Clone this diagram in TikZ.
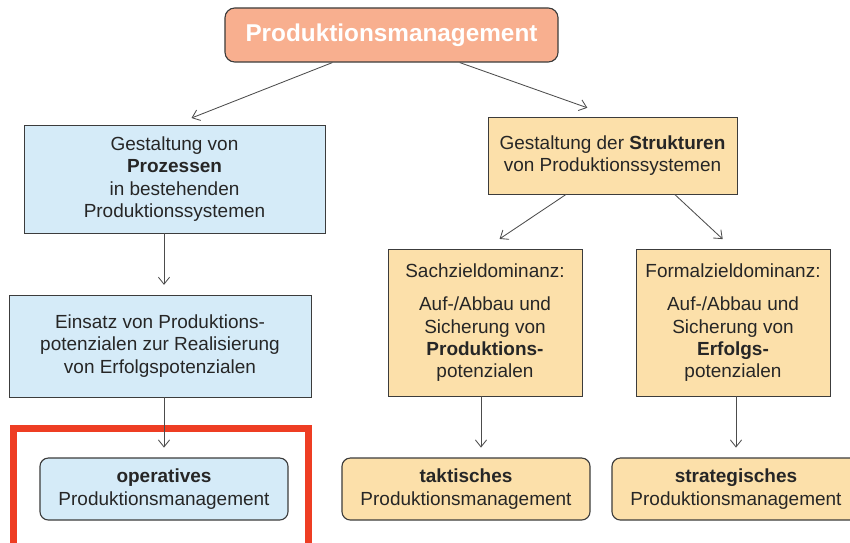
\documentclass[tikz,border=0pt]{standalone}
\usepackage{fontspec}
\setmainfont{Liberation Sans}
\usepackage{tikz}
\usetikzlibrary{arrows.meta}

\definecolor{lachs}{HTML}{F8AF8F}
\definecolor{hellblau}{HTML}{D5EBF8}
\definecolor{beige}{HTML}{FCE0AA}
\definecolor{rand}{HTML}{3C3C3C}
\definecolor{markrot}{HTML}{EE3D23}

\begin{document}
\begin{tikzpicture}[x=0.025cm, y=-0.025cm,
            nodes={draw=rand, align=center, text=black!85, inner sep=2pt,
                font=\fontsize{13.5}{15.8}\selectfont},
            blau/.style={fill=hellblau},
            gelb/.style={fill=beige},
            ebene/.style={rounded corners=6pt, line width=0.8pt,
                minimum width=6.2cm, minimum height=1.55cm},
            pfeil/.style={-{Straight Barb[length=5pt,width=8pt]}, draw=black!70, line width=0.6pt}]
        \useasboundingbox (0,0) rectangle (850,542);

        \node (top) [fill=lachs, text=white, rounded corners=7pt, line width=0.8pt,
            minimum width=8.325cm, minimum height=1.35cm,
            font=\fontsize{17.3}{20}\selectfont\bfseries] at (391.5,35) {Produktionsmanagement};

        \node (proz) [blau, minimum width=7.525cm, minimum height=2.7cm] at (174.5,179)
            {Gestaltung von\\\textbf{Prozessen}\\in bestehenden\\Produktionssystemen};
        \node (einsatz) [blau, minimum width=7.55cm, minimum height=2.55cm] at (160,346)
            {Einsatz von Produktions-\\potenzialen zur Realisierung\\von Erfolgspotenzialen};

        \node (strukt) [gelb, minimum width=6.225cm, minimum height=1.925cm] at (612.5,155.5)
            {Gestaltung der \textbf{Strukturen}\\von Produktionssystemen};
        \node (sach) [gelb, minimum width=4.85cm, minimum height=3.675cm] at (485,322.5)
            {Sachzieldominanz:\\[8pt]Auf-/Abbau und\\Sicherung von\\\textbf{Produktions-}\\potenzialen};
        \node (form) [gelb, minimum width=4.85cm, minimum height=3.675cm] at (733,322.5)
            {Formalzieldominanz:\\[8pt]Auf-/Abbau und\\Sicherung von\\\textbf{Erfolgs-}\\potenzialen};

        \node (fokus) [draw=markrot, line width=5pt, minimum width=7.375cm, minimum height=3.09cm] at (161,490) {};
        \node (ops) [blau, ebene] at (164,489) {\textbf{operatives}\\Produktionsmanagement};
        \node (takt) [gelb, ebene] at (466,489) {\textbf{taktisches}\\Produktionsmanagement};
        \node (strat) [gelb, ebene] at (736,489) {\textbf{strategisches}\\Produktionsmanagement};

        % obere ebene
        \draw [pfeil, shorten >=13pt] (top.205) -- (proz.north);
        \draw [pfeil, shorten >=19pt] (top.338) -- (strukt.north);
        \draw [pfeil, shorten >=12.5pt] (strukt.220) -- (sach.north);
        \draw [pfeil, shorten >=10pt] (strukt.328) -- (form.north);

        % senkrecht nach unten
        \draw [pfeil, shorten >=7pt] (proz.south -| ops.north) -- (einsatz.north -| ops.north);
        \draw [pfeil, shorten >=7pt] (einsatz.south -| ops.north) -- (ops.north);
        \draw [pfeil, shorten >=7pt] ([xshift=-0.1cm]sach.south) -- ([xshift=-0.1cm]sach.south |- takt.north);
        \draw [pfeil, shorten >=7pt] (strat.north |- form.south) -- (strat.north);
    \end{tikzpicture}
\end{document}
